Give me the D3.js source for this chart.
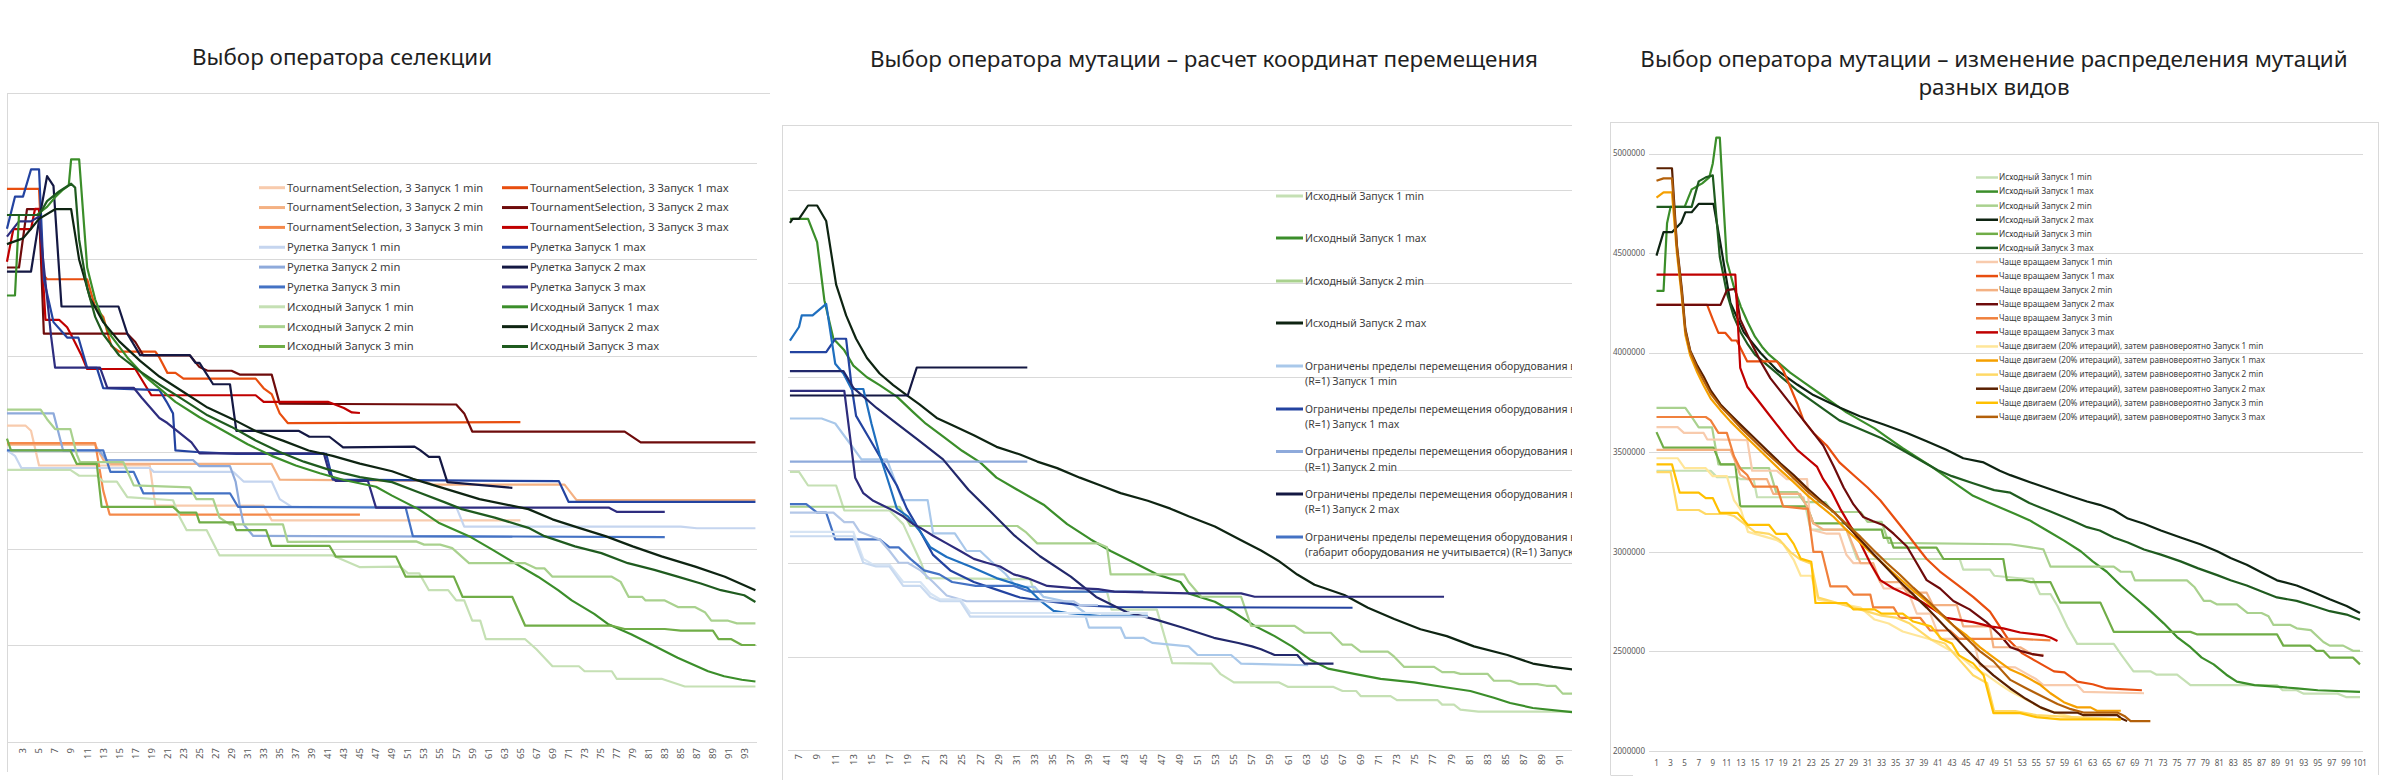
<!DOCTYPE html>
<html>
<head>
<meta charset="utf-8">
<script src="https://cdn.jsdelivr.net/npm/d3@7"></script>
<style>
  body { margin: 0; background: #fff; }
  svg { display: block; font-family: "Noto Sans", "Open Sans", sans-serif; }
</style>
</head>
<body>
<script>
// values are in thousands of units (y axis of the third chart shows them *1000)
var yTicks = [2000, 2500, 3000, 3500, 4000, 4500, 5000];

// ---------- chart 1: selection operator ----------
var selTicks = [3,5,7,9,11,13,15,17,19,21,23,25,27,29,31,33,35,37,39,41,43,45,47,49,51,53,55,57,59,61,63,65,67,69,71,73,75,77,79,81,83,85,87,89,91,93];
var selNames = [
  "TournamentSelection, 3 Запуск 1 min", "TournamentSelection, 3 Запуск 1 max",
  "TournamentSelection, 3 Запуск 2 min", "TournamentSelection, 3 Запуск 2 max",
  "TournamentSelection, 3 Запуск 3 min", "TournamentSelection, 3 Запуск 3 max",
  "Рулетка Запуск 1 min", "Рулетка Запуск 1 max",
  "Рулетка Запуск 2 min", "Рулетка Запуск 2 max",
  "Рулетка Запуск 3 min", "Рулетка Запуск 3 max",
  "Исходный Запуск 1 min", "Исходный Запуск 1 max",
  "Исходный Запуск 2 min", "Исходный Запуск 2 max",
  "Исходный Запуск 3 min", "Исходный Запуск 3 max"
];
var selColors = ["#f8cbad","#e84e0f","#f4b183","#6e0b0b","#f4894a","#c00000",
                 "#c5d5ef","#2343a0","#8eaadb","#141843","#4472c4","#2e2d7f",
                 "#c5e0b4","#3b8e2a","#a9d18e","#0e2412","#70ad47","#1f5b1f"];
var selSeries = [
  [[1,3637],[3.3,3637],[4,3610],[5,3430],[18.8,3430],[19.5,3222],[33,3222],[34,3146],[65,3146]],
  [[1,4863],[5,4863],[5.5,4420],[6,4395],[11,4395],[12,4250],[13,4200],[14,4050],[15,4020],[19.5,4020],[20,3990],[21,3910],[22,3910],[23,3880],[32,3880],[33,3830],[34,3800],[35,3700],[36,3650],[65,3655]],
  [[1,3538],[12,3538],[13,3460],[14,3438],[34,3438],[35,3357],[53,3350],[54,3331],[70.5,3331],[72,3251],[94.3,3251]],
  [[1,4456],[2.5,4456],[3.5,4758],[5,4758],[5.6,4113],[16,4113],[17,4070],[18,4000],[23.8,4000],[25,3940],[26,3921],[29,3921],[30,3901],[34,3901],[35,3750],[57,3746],[58,3700],[59,3606],[78,3606],[80,3550],[94.3,3550]],
  [[1,3546],[12,3546],[13,3300],[13.8,3176],[45,3176]],
  [[1,4486],[1.8,4655],[4,4655],[4.5,4760],[5,4760],[5.8,4185],[7.5,4185],[8.5,4146],[9,4107],[10.3,4000],[11,3930],[17,3930],[19,3794],[32,3794],[33,3760],[41,3760],[43,3728],[44,3705],[45,3702]],
  [[1,3508],[2,3480],[2.8,3417],[18.8,3417],[19.3,3397],[29.2,3397],[30.5,3347],[34,3347],[35,3256],[36.5,3216],[57,3216],[58,3113],[85,3113],[87,3105],[94.3,3105]],
  [[1,4657],[2,4823],[3,4823],[4,4964],[5,4964],[5.6,4395],[6.8,4173],[8.5,4093],[9.9,4093],[11,3936],[12.2,3936],[13,3831],[20,3821],[20.9,3760],[21.7,3700],[22,3508],[24.6,3500],[29.6,3490],[40.8,3490],[41.6,3357],[69.8,3349],[71,3242],[94.3,3242]],
  [[1,3700],[6.8,3700],[8,3508],[12.5,3508],[13.4,3458],[24.2,3458],[25,3427],[28.8,3427],[29.5,3347],[30,3226],[30.5,3125],[31.7,3065],[64,3060]],
  [[1,4435],[4,4435],[5,4700],[6,4929],[6.8,4879],[7.8,4254],[14.9,4254],[16,4113],[17.6,4002],[23.8,4002],[24.5,3962],[25,3962],[26.7,3851],[28.8,3851],[29.6,3609],[37.4,3609],[38.7,3579],[41.2,3579],[42.9,3524],[51.8,3528],[52.5,3510],[53.6,3475],[54.9,3475],[55.9,3344],[64,3314]],
  [[1,3508],[13,3508],[13.9,3397],[16.8,3397],[18,3286],[28.8,3286],[29.8,3216],[50.7,3212],[51.6,3064],[83,3059]],
  [[1,4616],[2.5,4695],[4,4695],[5,4720],[5.5,4500],[6.5,4100],[7,3937],[12.6,3937],[13.5,3833],[16.8,3833],[17.8,3781],[20,3676],[21,3650],[24,3550],[25,3493],[40.5,3493],[41.2,3389],[42,3350],[46,3350],[47,3212],[76,3212],[77,3190],[83,3190]],
  [[1,3407],[8.9,3407],[10,3377],[12.2,3377],[13,3347],[14.7,3347],[16,3266],[21.7,3250],[22.5,3165],[23.4,3095],[25.9,3095],[27.5,2964],[41.6,2964],[45,2903],[50,2906],[51,2871],[52.4,2871],[53.6,2784],[56,2784],[57,2731],[58,2731],[59,2626],[60,2626],[60.7,2530],[65.6,2530],[67,2478],[69,2390],[72.3,2390],[73,2364],[76.4,2364],[77,2325],[82.6,2325],[85.5,2285],[94.3,2285]],
  [[1,4311],[2,4311],[2.5,4728],[4.7,4728],[6,4770],[7,4820],[8,4860],[8.7,4880],[9,5016],[10,5016],[11,4456],[12,4290],[13,4180],[14,4100],[16,3990],[18,3900],[20,3830],[22,3760],[25,3680],[28,3610],[31,3540],[34,3480],[37,3430],[40,3390],[43,3355],[47,3320],[49,3274],[52.3,3204],[54.8,3134],[58.6,3064],[61.5,2994],[64.3,2924],[67.2,2854],[69.7,2784],[71.4,2731],[74.2,2661],[75.9,2609],[78.8,2556],[81.3,2504],[84.6,2434],[88.4,2364],[90.4,2338],[92.6,2320],[94.3,2311]],
  [[1,3720],[5.2,3720],[6,3670],[7,3619],[8.9,3619],[9.7,3488],[10.1,3448],[15.5,3448],[16.8,3327],[23.8,3317],[24.6,3256],[26.7,3256],[27.5,3160],[28.8,3125],[35.4,3125],[36,3034],[52,3037],[53,3020],[55,3020],[56.5,3002],[58.6,2924],[65.6,2924],[67,2897],[68,2897],[69,2854],[76.4,2854],[77.5,2827],[78.5,2749],[80.2,2749],[80.6,2731],[83,2731],[84.7,2696],[86.8,2696],[88,2670],[88.8,2626],[90.9,2626],[92,2612],[94.3,2612]],
  [[1,4577],[3,4607],[4,4657],[5,4708],[7,4758],[9,4758],[10,4496],[11.4,4294],[13,4173],[15,4073],[17.6,3972],[20,3891],[23,3811],[26,3730],[29.2,3669],[32,3609],[35.4,3559],[38.6,3508],[41.6,3480],[45,3440],[49,3400],[51.6,3361],[55.7,3309],[59.9,3256],[66,3204],[69,3151],[72.3,3107],[75.6,3064],[79,3011],[82.6,2959],[86.8,2906],[90.5,2854],[94.3,2784]],
  [[1,3569],[1.5,3508],[8.9,3508],[9.7,3438],[12.2,3438],[12.8,3216],[21.7,3216],[22.5,3186],[24.6,3186],[25,3135],[29.2,3135],[29.6,3095],[33.3,3095],[34,3014],[41.2,3014],[42,2958],[49.5,2958],[50.7,2854],[56.7,2854],[57.8,2749],[64,2749],[65.6,2600],[76.4,2600],[78,2583],[83,2583],[85,2574],[89,2574],[89.7,2530],[91.3,2530],[92.6,2500],[94.3,2500]],
  [[1,4728],[5,4728],[6,4800],[7.5,4850],[9,4890],[9.5,4870],[10,4600],[11,4350],[12,4200],[13,4110],[15,4000],[17.5,3920],[20,3850],[23,3770],[26,3690],[29,3630],[32,3560],[35,3500],[38,3450],[41,3410],[45,3370],[49,3344],[52.3,3291],[55.6,3239],[57.7,3204],[61.8,3160],[66,3107],[68,3064],[71.8,3011],[75.1,2976],[78.4,2924],[81.7,2889],[84.6,2854],[87.5,2819],[90,2784],[92.9,2758],[94.3,2723]]
];

// ---------- chart 2: mutation operator, move coordinates ----------
var mutTicks = [7,9,11,13,15,17,19,21,23,25,27,29,31,33,35,37,39,41,43,45,47,49,51,53,55,57,59,61,63,65,67,69,71,73,75,77,79,81,83,85,87,89,91,93];
// legend text is cut by the right edge of the picture, as in the source
var mutLegend = [
  ["Исходный Запуск 1 min"],
  ["Исходный Запуск 1 max"],
  ["Исходный Запуск 2 min"],
  ["Исходный Запуск 2 max"],
  ["Ограничены пределы перемещения оборудования во", "(R=1) Запуск 1 min"],
  ["Ограничены пределы перемещения оборудования во", "(R=1) Запуск 1 max"],
  ["Ограничены пределы перемещения оборудования во", "(R=1) Запуск 2 min"],
  ["Ограничены пределы перемещения оборудования во", "(R=1) Запуск 2 max"],
  ["Ограничены пределы перемещения оборудования во", "(габарит оборудования не учитывается) (R=1) Запуск 1"]
];
var mutColors = ["#c5e0b4","#3b8e2a","#a9d18e","#0e2412","#a9c8ea","#2343a0","#8eaadb","#141843","#4472c4",
                 "#1f6fbf","#22286b","#2d2c7c","#b4c7e7","#d6e4f4","#c9daf0"];
var mutSeries = [
  [[6,3490],[7,3490],[8,3417],[11.1,3417],[12,3283],[17,3283],[18.5,3210],[20.5,3000],[21.1,2921],[32.5,2915],[33,2847],[41,2847],[41.5,2752],[46.5,2752],[48.2,2465],[52.5,2463],[53.5,2408],[55,2362],[60,2362],[61,2338],[66,2338],[67,2316],[68.5,2316],[69,2289],[72.3,2289],[73,2267],[77.5,2267],[78,2243],[79.3,2243],[80,2216],[82,2206],[93,2206]],
  [[6,4845],[8,4845],[9,4721],[9.8,4410],[10.8,4203],[12,4141],[13,4059],[14.5,3997],[15.9,3955],[17.8,3893],[19.6,3810],[21,3748],[23,3676],[25,3603],[27,3541],[28.8,3459],[31,3397],[34,3314],[36.6,3210],[39.2,3128],[41.4,3066],[44,3003],[46.5,2941],[49.1,2900],[50,2839],[52.9,2794],[55,2738],[57.3,2665],[59.5,2610],[61.4,2555],[63.5,2482],[65.4,2436],[68.3,2408],[71.2,2381],[74.9,2362],[78.5,2335],[81.1,2316],[83.7,2280],[85.5,2252],[88,2225],[93,2200]],
  [[6,3303],[18.1,3303],[19.3,3200],[31.1,3200],[32,3169],[33.3,3107],[40,3107],[41,3086],[41.4,2941],[49.5,2941],[50,2900],[51.4,2821],[55.8,2821],[56.9,2665],[61.7,2665],[62.8,2628],[65.7,2628],[67,2564],[68,2564],[69,2527],[72,2527],[72.7,2500],[73.8,2445],[77.1,2445],[78,2417],[79.3,2417],[80,2408],[83,2408],[83.7,2371],[85.5,2371],[86.5,2353],[88.5,2353],[89.5,2344],[90.5,2344],[91.3,2302],[93,2302]],
  [[6,4824],[6.3,4845],[7,4845],[8,4917],[9,4917],[10,4834],[11.1,4493],[12.2,4328],[13.3,4203],[14.5,4100],[15.9,4017],[17.4,3955],[19,3897],[20.3,3852],[22.2,3779],[24,3738],[26.3,3686],[28.8,3624],[31.4,3583],[33.3,3545],[35.5,3510],[38,3459],[40.3,3417],[42.5,3376],[45.5,3335],[48,3293],[50,3252],[52.9,3197],[55.8,3124],[58,3069],[59.9,3014],[62,2940],[63.9,2885],[67.2,2830],[69.8,2762],[72.7,2702],[75.6,2647],[78.5,2610],[81.5,2555],[85.2,2509],[88,2463],[90.2,2445],[93,2427]],
  [[6,3776],[9.5,3776],[11,3749],[12.5,3650],[13.9,3557],[16.7,3557],[18.4,3339],[21.2,3339],[21.8,3161],[24.2,3161],[25.5,3066],[27,3066],[28.2,3011],[29.8,2943],[31,2874],[33,2874],[34,2820],[37,2790],[38.5,2738],[39,2656],[42.5,2656],[43,2601],[45,2601],[46,2574],[50,2555],[51,2509],[54.7,2509],[55.8,2463],[63.2,2454]],
  [[6,4131],[10,4131],[11,4203],[12.2,4203],[12.8,3950],[13.3,3790],[14.8,3666],[16.3,3541],[17.8,3417],[18.9,3293],[20.4,3169],[21.8,3045],[23.7,2962],[26.3,2900],[28.8,2859],[31.4,2817],[34.4,2797],[38,2776],[41.8,2766],[68.1,2762]],
  [[6,3545],[32.2,3545]],
  [[6,3899],[19,3899],[20,4049],[32.2,4049]],
  [[6,3317],[7.8,3317],[9,3272],[10,3272],[11,3128],[15.9,3128],[17,3086],[18,3086],[19.3,3024],[20.8,2962],[22.5,2941],[23.9,2900],[26.5,2879],[30.7,2879],[32.5,2848],[45,2848]],
  [[6,4193],[7,4266],[7.3,4328],[8.5,4328],[10,4390],[11,4069],[11.9,4017],[12.8,3934],[14.1,3934],[15,3748],[15.9,3583],[17,3417],[17.8,3293],[19,3252],[20.4,3169],[21.5,3086],[23.3,3034],[25.9,2983],[28.8,2921],[32.2,2869],[33.7,2797],[35.1,2745],[36.6,2734],[40.3,2718],[45.5,2718]],
  [[6,4030],[11.9,4030],[13,3940],[15.6,3831],[17.8,3749],[20,3667],[22.9,3557],[25.7,3394],[28,3284],[30.8,3148],[33.6,3038],[37,2929],[39.8,2820],[43.2,2738],[46.5,2697],[49.3,2656],[52.8,2601],[55.5,2573],[57,2555],[58,2540],[59.5,2509],[62,2509],[62.8,2463],[66,2463]],
  [[6,3924],[12,3924],[13.2,3459],[14.1,3376],[15.2,3335],[17,3293],[18.5,3252],[19.6,3210],[20.4,3190],[21.8,3148],[23.3,3107],[24.8,3066],[26.3,3024],[27.7,3003],[29.2,2983],[30.7,2941],[32.2,2921],[34.4,2879],[37,2869],[40,2862],[41.8,2848],[50,2839],[55.8,2839],[57.3,2821],[78.2,2821]],
  [[6,3272],[10.8,3272],[12,3221],[13,3221],[13.7,3169],[15.9,3128],[17,3066],[18,3003],[19,3003],[20.4,2962],[21.8,2900],[23.3,2828],[25.5,2797],[37.3,2797],[38,2776],[40,2776]],
  [[6,3169],[13,3169],[14.1,3024],[15.2,2993],[17,2993],[18.5,2900],[20.4,2900],[21.5,2838],[22.6,2807],[24.8,2807],[25.9,2734],[45.5,2734]],
  [[6,3145],[13,3145],[14.1,3003],[15.5,2983],[17,2983],[18.5,2879],[20.4,2879],[21.5,2820],[22.6,2797],[24.8,2797],[25.9,2714],[45.5,2714]]
];

// ---------- chart 3: mutation operator, distribution of mutation kinds ----------
var distTicks = [1,3,5,7,9,11,13,15,17,19,21,23,25,27,29,31,33,35,37,39,41,43,45,47,49,51,53,55,57,59,61,63,65,67,69,71,73,75,77,79,81,83,85,87,89,91,93,95,97,99,101];
var distNames = [
  "Исходный Запуск 1 min", "Исходный Запуск 1 max", "Исходный Запуск 2 min",
  "Исходный Запуск 2 max", "Исходный Запуск 3 min", "Исходный Запуск 3 max",
  "Чаще вращаем Запуск 1 min", "Чаще вращаем Запуск 1 max", "Чаще вращаем Запуск 2 min",
  "Чаще вращаем Запуск 2 max", "Чаще вращаем Запуск 3 min", "Чаще вращаем Запуск 3 max",
  "Чаще двигаем (20% итераций), затем равновероятно Запуск 1 min",
  "Чаще двигаем (20% итераций), затем равновероятно Запуск 1 max",
  "Чаще двигаем (20% итераций), затем равновероятно Запуск 2 min",
  "Чаще двигаем (20% итераций), затем равновероятно Запуск 2 max",
  "Чаще двигаем (20% итераций), затем равновероятно Запуск 3 min",
  "Чаще двигаем (20% итераций), затем равновероятно Запуск 3 max"
];
var distColors = ["#c5e0b4","#3b8e2a","#a9d18e","#0e2412","#70ad47","#1f5b1f",
                  "#f8cbad","#e84e0f","#f4b183","#6e0b0b","#f0803c","#c00000",
                  "#ffe699","#f5a000","#ffd966","#5a2000","#ffc000","#b3600a"];
var distSeries = [
  [[1,3407],[8.7,3407],[9.6,3375],[12.4,3375],[13,3365],[14.8,3365],[15.3,3274],[21.9,3274],[22.9,3112],[28,3112],[29.5,2964],[44.1,2964],[44.6,2911],[48.4,2911],[49,2880],[53,2866],[54.5,2866],[55.5,2788],[57,2788],[58,2728],[59.4,2624],[60.8,2538],[66,2538],[67,2486],[68.8,2400],[71.2,2400],[72.1,2383],[75,2383],[76.9,2331],[89.2,2331],[90,2305],[92,2305],[93,2288],[97.8,2288],[99,2271],[101,2271]],
  [[1,4310],[2,4310],[2.5,4650],[3,4732],[5,4732],[6,4820],[6.5,4830],[7.5,4850],[8.5,4880],[9,4950],[9.5,5080],[10,5080],[10.6,4700],[11,4460],[12,4330],[13,4230],[14,4150],[15,4080],[16,4030],[17,3990],[18,3960],[20,3900],[22,3850],[24,3800],[26,3750],[28,3700],[30,3660],[32,3620],[34,3570],[36,3520],[38,3475],[40,3430],[42,3380],[44,3330],[46,3281],[48,3250],[50,3220],[52,3190],[54,3159],[56.5,3107],[59,3055],[61.3,3003],[63,2952],[65,2900],[67,2831],[69.3,2762],[71,2710],[73.1,2641],[75,2572],[76.9,2521],[78.5,2469],[80.2,2435],[82,2383],[83.5,2348],[86,2331],[89.5,2322],[92,2314],[95,2305],[101,2297]],
  [[1,3723],[5.1,3723],[6,3677],[7,3625],[8.9,3625],[9.8,3439],[12.2,3439],[13,3420],[17,3420],[18,3300],[21,3300],[22,3250],[25,3250],[26,3200],[30,3200],[31,3150],[33,3150],[34,3045],[51.3,3038],[54,3024],[56,3012],[57,2926],[66,2926],[67,2900],[68.5,2900],[69,2857],[76.4,2857],[77.5,2822],[78.8,2754],[79.7,2754],[80.7,2736],[83.5,2736],[85,2693],[87,2693],[88,2676],[88.7,2633],[91.1,2633],[92,2616],[94,2607],[95.8,2547],[96.7,2529],[98.6,2529],[100,2503],[101,2503]],
  [[1,4487],[2,4605],[3.2,4605],[4.5,4652],[5.1,4705],[6,4705],[7,4747],[9.1,4747],[10.1,4546],[11.5,4251],[13.4,4103],[15.8,3998],[18.1,3913],[21,3840],[23.3,3787],[27.1,3723],[29.9,3681],[33.3,3639],[36.6,3597],[39.4,3555],[42.2,3512],[44.6,3470],[47.5,3449],[49.8,3407],[51.3,3385],[54.2,3348],[57,3314],[59.9,3279],[62.2,3253],[64,3236],[66,3210],[68,3167],[70.3,3141],[72.7,3107],[75.5,3072],[78.3,3038],[80.7,3003],[82.6,2969],[84.9,2935],[87.3,2891],[89.2,2857],[92,2831],[94.4,2797],[96.7,2762],[99.1,2728],[101,2693]],
  [[1,3601],[2,3523],[9.1,3523],[10.1,3439],[12.2,3439],[12.9,3228],[22.4,3228],[23.3,3143],[28,3143],[29,3112],[33,3112],[33.3,3070],[34.2,3070],[34.7,3021],[40.8,3021],[41.8,2964],[50.3,2964],[50.8,2858],[53,2858],[54.2,2848],[57,2848],[58.4,2745],[64.1,2745],[66,2598],[76.9,2598],[77.8,2586],[89.2,2586],[90.1,2529],[93.9,2529],[94.8,2503],[95.8,2503],[96.7,2469],[100,2469],[101,2435]],
  [[1,4732],[6,4732],[7,4860],[8,4880],[9,4890],[10,4480],[11,4300],[12,4180],[13,4100],[14,4040],[15,3990],[17,3930],[19,3870],[21,3810],[23,3760],[25,3710],[27,3660],[29,3630],[31,3600],[33,3570],[35,3530],[37,3490],[39,3450],[41,3410],[43,3380],[46,3344],[49,3310],[51.3,3297],[54,3245],[57,3202],[60,3159],[62.2,3124],[64,3107],[66,3072],[68,3047],[70.3,3012],[72.7,2986],[75.5,2952],[78,2917],[80.7,2883],[82.6,2857],[84.9,2831],[87.3,2797],[89.2,2771],[92,2754],[94.4,2728],[96.7,2702],[99.1,2685],[101,2659]],
  [[1,3626],[4,3626],[4.9,3597],[7.7,3597],[8.2,3565],[13.9,3561],[14.6,3407],[18.1,3407],[19.5,3365],[22.4,3365],[22.9,3112],[25.2,3091],[27,3091],[28,2985],[29,2943],[31.4,2943],[33.3,2816],[36.6,2816],[38,2690],[39.9,2690],[41.3,2563],[46,2563],[47,2426],[52,2420],[55,2360],[56,2331],[60.8,2331],[61.7,2297],[70.3,2290]],
  [[1,4240],[8.2,4240],[9,4167],[9.8,4099],[10.8,4099],[11.7,4061],[12.4,4061],[13.9,3956],[18.1,3956],[19,3913],[20,3829],[21,3745],[21.9,3660],[23.3,3597],[25.2,3534],[27,3449],[29,3386],[31,3323],[32.8,3259],[34.7,3175],[36.6,3091],[38,3027],[39.4,2964],[41.3,2901],[43.7,2837],[46,2774],[48.4,2700],[51,2560],[53,2490],[55,2450],[57.5,2400],[59,2395],[60.8,2348],[63,2335],[65,2314],[70,2305]],
  [[1,3512],[11.5,3512],[12,3470],[12.9,3386],[13.9,3365],[16.7,3365],[17.6,3291],[21.4,3291],[22.4,3228],[23.3,3143],[24.7,3112],[28,3112],[29,3027],[30,2943],[31.8,2943],[32.8,2848],[35.6,2848],[36.6,2795],[39.4,2795],[40.3,2732],[43.7,2732],[44.6,2626],[48.4,2626],[48.9,2521],[52.7,2521],[54.5,2483],[56,2483]],
  [[1,4240],[10.1,4240],[11,4314],[12.2,4320],[12.9,4167],[14.3,4061],[15.8,3956],[17.2,3871],[18.6,3808],[20.5,3723],[21.9,3660],[23.3,3597],[24.7,3534],[26.2,3428],[27.6,3323],[29,3238],[30.4,3175],[31.8,3154],[33.3,3133],[34.7,3091],[36.6,3027],[38,2943],[39.4,2858],[41.3,2816],[43.2,2753],[45.5,2711],[47.9,2647],[49.8,2584],[51.3,2521],[53,2500],[54.5,2486],[56,2478]],
  [[1,3677],[8,3677],[8.7,3660],[9.8,3597],[11,3597],[12,3481],[12.9,3418],[13.9,3386],[14.8,3327],[18.1,3327],[19,3228],[21.9,3217],[22.5,3217],[23.3,3000],[24.5,3000],[25.7,2827],[28,2827],[29,2785],[31.4,2785],[31.8,2721],[34.7,2721],[35.6,2668],[38.5,2668],[39.9,2605],[42.7,2605],[44,2563],[52.7,2563],[57,2555]],
  [[1,4392],[12.2,4392],[12.9,3924],[13.9,3829],[15.3,3766],[16.7,3702],[18.1,3639],[19.5,3576],[21,3512],[22.4,3470],[23.8,3428],[24.7,3365],[25.9,3302],[27.1,3217],[28.5,3133],[29.9,3049],[31.4,2943],[32.8,2858],[34.7,2816],[36.6,2785],[38.5,2753],[40.4,2711],[42.2,2668],[44,2658],[46,2647],[48.4,2626],[50.3,2616],[52.7,2595],[56,2581],[57,2570],[58,2552]],
  [[1,3470],[4,3470],[5,3420],[8,3420],[9,3380],[11,3380],[12,3260],[13,3210],[14,3100],[16,3080],[18,3060],[19,3040],[20.5,2960],[21.5,2880],[23,2880],[24,2760],[27,2740],[30,2720],[32,2660],[34,2640],[36,2600],[38,2580],[40,2560],[42,2520],[44,2480],[46,2420],[48,2380],[50,2330],[51.3,2300],[54,2250],[56,2210],[60,2170],[67,2160]],
  [[1,4779],[2,4805],[3.2,4805],[3.9,4500],[4.6,4280],[5.1,4090],[5.8,3985],[6.8,3900],[7.7,3835],[8.7,3770],[10.1,3710],[11.5,3655],[12.9,3605],[14.8,3540],[16.7,3475],[18.6,3410],[20.5,3350],[22.4,3285],[24.3,3230],[26.2,3175],[28,3110],[30,3045],[31.8,2985],[33.7,2925],[35.6,2865],[37.5,2805],[39.4,2750],[41.3,2690],[43.2,2630],[45.1,2580],[47,2520],[48.9,2470],[51.3,2409],[53,2383],[55.6,2331],[57,2290],[58.9,2245],[60.8,2219],[62.7,2219],[63.6,2202],[67,2202]],
  [[1,3400],[3,3400],[4,3210],[7,3210],[8,3190],[11,3190],[12,3180],[13.5,3140],[15,3100],[17,3090],[18.5,3060],[20,3000],[21.5,2960],[23,2940],[24,2770],[27,2740],[29,2720],[31,2700],[33,2680],[35,2670],[37,2640],[40,2560],[42,2540],[44,2460],[46,2380],[48,2340],[49,2200],[52,2200],[55,2180],[60,2170],[67,2158]],
  [[1,4926],[3.2,4926],[3.9,4540],[4.6,4320],[5.1,4120],[5.8,4010],[6.8,3935],[7.7,3880],[8.7,3810],[10.1,3740],[11.5,3690],[12.9,3640],[14.8,3575],[16.7,3510],[18.6,3445],[20.5,3385],[22.4,3320],[24.3,3260],[26.2,3200],[28,3135],[30,3060],[31.8,2990],[33.7,2920],[35.6,2850],[37.5,2785],[39.4,2720],[41.3,2650],[43.2,2580],[45.1,2510],[47,2440],[48.9,2380],[51.3,2314],[53.5,2262],[55.6,2219],[57.5,2193],[60.8,2193],[61.7,2180],[66.5,2180],[67,2165],[67.9,2150]],
  [[1,3439],[3.2,3439],[4.3,3297],[7,3297],[8,3270],[9,3270],[10,3196],[12.5,3196],[14,3135],[17,3135],[18,3090],[19.5,3090],[20.5,3040],[21.5,2966],[23,2950],[23.6,2743],[28,2743],[29,2711],[32,2711],[33,2690],[36,2690],[37.5,2650],[40,2626],[41.5,2563],[43,2540],[44,2480],[46,2440],[47.5,2380],[48.9,2190],[52.7,2190],[55,2170],[58.4,2159],[67,2159]],
  [[1,4863],[2,4875],[3.2,4875],[3.9,4530],[4.6,4300],[5.1,4110],[5.8,4005],[6.8,3920],[7.7,3860],[8.7,3795],[10.1,3730],[11.5,3680],[12.9,3625],[14.8,3560],[16.7,3495],[18.6,3435],[20.5,3370],[22.4,3305],[24.3,3250],[26.2,3200],[28,3140],[30,3075],[31.8,3010],[33.7,2945],[35.6,2885],[37.5,2820],[39.4,2760],[41.3,2695],[43.2,2630],[45.1,2565],[47,2500],[48.9,2450],[51.3,2357],[53.6,2314],[56,2271],[58,2236],[59.9,2210],[61.7,2193],[66.5,2193],[67.5,2176],[68.4,2150],[71.2,2150]]
];

var svg = d3.select("body").append("svg")
    .attr("width", 2392)
    .attr("height", 780);

var gridColor = "#d9d9d9",
    frameColor = "#d9d9d9",
    labelColor = "#595959";

//horizontal gridlines at the y ticks
function drawGrid(g, y, x0, x1){
    g.selectAll(".grid")
        .data(yTicks)
        .enter()
        .append("line")
        .attr("x1", x0).attr("x2", x1)
        .attr("y1", function(d){ return Math.round(y(d)) + 0.5; })
        .attr("y2", function(d){ return Math.round(y(d)) + 0.5; })
        .attr("stroke", gridColor)
        .attr("stroke-width", 1);
};

//one path per series
function drawLines(g, series, colors, x, y){
    var line = d3.line()
        .x(function(d){ return x(d[0]); })
        .y(function(d){ return y(d[1]); });
    g.selectAll(".series")
        .data(series)
        .enter()
        .append("path")
        .attr("d", line)
        .attr("fill", "none")
        .attr("stroke", function(d, i){ return colors[i]; })
        .attr("stroke-width", 2.2)
        .attr("stroke-linejoin", "round");
};

//rotated category labels (charts 1 and 2)
function drawRotatedTicks(g, ticks, x, yTop){
    g.selectAll(".tick")
        .data(ticks)
        .enter()
        .append("text")
        .attr("transform", function(d){ return "translate(" + x(d) + "," + yTop + ") rotate(-90)"; })
        .attr("text-anchor", "end")
        .attr("dy", "0.35em")
        .attr("font-size", 9.5)
        .attr("fill", labelColor)
        .text(function(d){ return d; });
};

function title(lines, cx, y0){
    lines.forEach(function(t, i){
        svg.append("text")
            .attr("x", cx)
            .attr("y", y0 + i * 28)
            .attr("text-anchor", "middle")
            .attr("font-size", 22.4)
            .attr("fill", "#1f1f1f")
            .text(t);
    });
};

// ===== chart 1 =====
(function(){
    var x = d3.scaleLinear().domain([3, 93]).range([23, 745]);
    var y = d3.scaleLinear().domain([2000, 5000]).range([741.5, 162.5]);
    var g = svg.append("g");

    title(["Выбор оператора селекции"], 342, 65);

    //frame (left and top edges remain in the crop)
    g.append("line").attr("x1", 7.5).attr("x2", 7.5).attr("y1", 93).attr("y2", 772).attr("stroke", frameColor);
    g.append("line").attr("x1", 7.5).attr("x2", 770).attr("y1", 93.5).attr("y2", 93.5).attr("stroke", frameColor);

    drawGrid(g, y, 8, 757);

    //legend in two columns, row-major
    var leg = g.append("g");
    selNames.forEach(function(name, i){
        var col = i % 2, row = Math.floor(i / 2);
        var lx = col === 0 ? 259 : 502;
        var ly = 187.7 + row * 19.85;
        leg.append("line")
            .attr("x1", lx).attr("x2", lx + 26)
            .attr("y1", ly).attr("y2", ly)
            .attr("stroke", selColors[i]).attr("stroke-width", 3);
        leg.append("text")
            .attr("x", lx + 28).attr("y", ly)
            .attr("dy", "0.35em")
            .attr("font-size", 11.2)
            .attr("fill", "#404040")
            .text(name);
    });

    drawLines(g, selSeries, selColors, x, y);
    drawRotatedTicks(g, selTicks, x, 748);
})();

// ===== chart 2 =====
(function(){
    var x = d3.scaleLinear().domain([7, 91]).range([799, 1560]);
    var y = d3.scaleLinear().domain([2000, 5000]).range([750, 190]);

    svg.append("defs").append("clipPath").attr("id", "clip2")
        .append("rect").attr("x", 780).attr("y", 0).attr("width", 792).attr("height", 780);

    var g = svg.append("g").attr("clip-path", "url(#clip2)");

    title(["Выбор оператора мутации – расчет координат перемещения"], 1204, 67);

    g.append("line").attr("x1", 782.5).attr("x2", 782.5).attr("y1", 125).attr("y2", 780).attr("stroke", frameColor);
    g.append("line").attr("x1", 782.5).attr("x2", 1572).attr("y1", 125.5).attr("y2", 125.5).attr("stroke", frameColor);

    drawGrid(g, y, 788, 1572);

    var leg = g.append("g");
    var rowY = [196, 238, 281, 323, 366, 409, 451.5, 494, 537];
    mutLegend.forEach(function(lines, i){
        leg.append("line")
            .attr("x1", 1276).attr("x2", 1303)
            .attr("y1", rowY[i]).attr("y2", rowY[i])
            .attr("stroke", mutColors[i]).attr("stroke-width", 3);
        lines.forEach(function(t, k){
            leg.append("text")
                .attr("x", 1305).attr("y", rowY[i] + k * 15.5)
                .attr("dy", "0.35em")
                .attr("font-size", 10.5)
                .attr("fill", "#404040")
                .text(t);
        });
    });

    drawLines(g, mutSeries, mutColors, x, y);
    drawRotatedTicks(g, mutTicks, x, 754);
})();

// ===== chart 3 =====
(function(){
    var x = d3.scaleLinear().domain([1, 101]).range([1656.5, 2360]);
    var y = d3.scaleLinear().domain([2000, 5000]).range([751, 153.5]);

    svg.append("defs").append("clipPath").attr("id", "clip3")
        .append("rect").attr("x", 1610).attr("y", 123).attr("width", 768).attr("height", 652);

    var g = svg.append("g");

    title(["Выбор оператора мутации – изменение распределения мутаций", "разных видов"], 1994, 67);

    g.append("line").attr("x1", 1610.5).attr("x2", 1610.5).attr("y1", 122).attr("y2", 775).attr("stroke", frameColor);
    g.append("line").attr("x1", 2378.5).attr("x2", 2378.5).attr("y1", 122).attr("y2", 775).attr("stroke", frameColor);
    g.append("line").attr("x1", 1610.5).attr("x2", 2378.5).attr("y1", 122.5).attr("y2", 122.5).attr("stroke", frameColor);
    g.append("line").attr("x1", 1610.5).attr("x2", 1633).attr("y1", 775.5).attr("y2", 775.5).attr("stroke", frameColor);

    drawGrid(g, y, 1649, 2363);

    //y labels
    g.selectAll(".ylab")
        .data(yTicks)
        .enter()
        .append("text")
        .attr("x", 1645)
        .attr("y", function(d){ return y(d); })
        .attr("dy", "0.35em")
        .attr("text-anchor", "end")
        .attr("font-size", 8)
        .attr("fill", labelColor)
        .text(function(d){ return d * 1000; });

    //x labels
    g.selectAll(".xlab")
        .data(distTicks)
        .enter()
        .append("text")
        .attr("x", function(d){ return x(d); })
        .attr("y", 763)
        .attr("dy", "0.35em")
        .attr("text-anchor", "middle")
        .attr("font-size", 8)
        .attr("fill", labelColor)
        .text(function(d){ return d; });

    var leg = g.append("g");
    distNames.forEach(function(name, i){
        var ly = 177.5 + i * 14.08;
        leg.append("line")
            .attr("x1", 1976).attr("x2", 1998)
            .attr("y1", ly).attr("y2", ly)
            .attr("stroke", distColors[i]).attr("stroke-width", 2.5);
        leg.append("text")
            .attr("x", 1999).attr("y", ly)
            .attr("dy", "0.35em")
            .attr("font-size", 8.2)
            .attr("fill", "#404040")
            .text(name);
    });

    var lines = g.append("g").attr("clip-path", "url(#clip3)");
    drawLines(lines, distSeries, distColors, x, y);
})();
</script>
</body>
</html>
